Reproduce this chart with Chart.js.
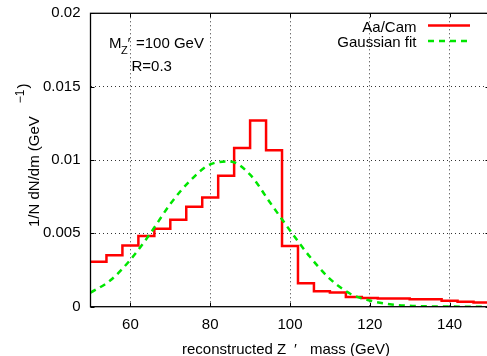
<!DOCTYPE html>
<html>
<head>
<meta charset="utf-8">
<script src="https://cdn.jsdelivr.net/npm/chart.js@4.4.1/dist/chart.umd.min.js"></script>
<style>
html, body { margin: 0; padding: 0; background: #fff; overflow: hidden; }
#wrap { position: relative; width: 492px; height: 356px; }
</style>
</head>
<body>
<div id="wrap"><canvas id="zChart"></canvas></div>
<script>
// histogram: left bin edges (GeV) and normalised contents 1/N dN/dm
const binEdges = [50, 54, 58, 62, 66, 70, 74, 78, 82, 86, 90, 94, 98,
                  102, 106, 110, 114, 118, 122, 126, 130, 134, 138, 142, 146];
const binLast = 150;
const histValues = [0.00307, 0.0035, 0.00418, 0.00482, 0.00532, 0.00593, 0.00682, 0.00745,
                    0.00893, 0.01082, 0.0127, 0.01066, 0.00414, 0.0016, 0.00105, 0.00096,
                    0.00066, 0.0006, 0.00056, 0.00056, 0.0005, 0.0005, 0.0004, 0.00034, 0.00029];

// gaussian fit
const fitMass = [50, 55, 60, 65, 70, 75, 80, 85, 90, 95, 100, 105, 110, 115, 120, 125, 130, 135, 140, 145, 150];
const fitValues = [0.00095, 0.0018, 0.0032, 0.0050, 0.0070, 0.0086, 0.0097, 0.0099, 0.0090, 0.0071,
                   0.0052, 0.0034, 0.0019, 0.0009, 0.00042, 0.00017, 0.00006, 0.00002, 0.00001, 0, 0];

const xTickValues = [60, 80, 100, 120, 140];
const yTickValues = [0, 0.005, 0.01, 0.015, 0.02];
const yTickLabels = ["0", "0.005", "0.01", "0.015", "0.02"];

const seriesNames = ["Aa/Cam", "Gaussian fit"];
const seriesColors = ["#ff0000", "#00e600"];

const FONT = "Liberation Sans, Arial, sans-serif";

let histPoints = binEdges.map((x, i) => ({ x: x, y: histValues[i] }));
histPoints.push({ x: binLast, y: histValues[histValues.length - 1] });
let fitPoints = fitMass.map((x, i) => ({ x: x, y: fitValues[i] }));

// frame, mirrored ticks, legend and labels
const decor = {
    id: "decor",
    afterDraw(chart) {
        const ctx = chart.ctx;
        const a = chart.chartArea;
        const xs = chart.scales.x, ys = chart.scales.y;
        ctx.save();
        ctx.strokeStyle = "#000";
        ctx.lineWidth = 1.3;
        ctx.strokeRect(a.left, a.top, a.right - a.left, a.bottom - a.top);
        ctx.lineWidth = 1;
        ctx.beginPath();
        xTickValues.forEach(v => {
            let px = Math.round(xs.getPixelForValue(v)) + 0.5;
            ctx.moveTo(px, a.bottom); ctx.lineTo(px, a.bottom - 4);
            ctx.moveTo(px, a.top); ctx.lineTo(px, a.top + 4);
        });
        yTickValues.forEach(v => {
            let py = Math.round(ys.getPixelForValue(v)) + 0.5;
            ctx.moveTo(a.left, py); ctx.lineTo(a.left + 4, py);
            ctx.moveTo(a.right, py); ctx.lineTo(a.right - 4, py);
        });
        ctx.stroke();

        ctx.fillStyle = "#000";
        ctx.textBaseline = "alphabetic";

        // legend
        ctx.font = "15px " + FONT;
        ctx.textAlign = "right";
        ctx.fillText(seriesNames[0], 416.5, 31.5);
        ctx.fillText(seriesNames[1], 416.5, 46.5);
        ctx.lineWidth = 2.5;
        ctx.strokeStyle = seriesColors[0];
        ctx.beginPath(); ctx.moveTo(428, 25.5); ctx.lineTo(470, 25.5); ctx.stroke();
        ctx.strokeStyle = seriesColors[1];
        ctx.setLineDash([6, 5]);
        ctx.beginPath(); ctx.moveTo(428, 41); ctx.lineTo(470, 41); ctx.stroke();
        ctx.setLineDash([]);

        // annotation
        ctx.textAlign = "left";
        ctx.font = "15px " + FONT;
        ctx.fillText("M", 109, 48);
        ctx.font = "11px " + FONT;
        ctx.fillText("Z", 121, 54);
        ctx.font = "15px " + FONT;
        ctx.fillText("\u2032", 127.5, 48);
        ctx.fillText("=100 GeV", 136, 48);
        ctx.fillText("R=0.3", 131.5, 70.5);

        // x title
        ctx.fillText("reconstructed Z", 182, 354);
        ctx.fillText("\u2032", 294, 354);
        ctx.fillText("mass (GeV)", 310, 354);

        // y title
        ctx.save();
        ctx.translate(39, 227);
        ctx.rotate(-Math.PI / 2);
        ctx.font = "15px " + FONT;
        ctx.fillText("1/N dN/dm (GeV", 0, 0);
        let w = ctx.measureText("1/N dN/dm (GeV").width;
        ctx.font = "12px " + FONT;
        ctx.fillText("\u22121", w + 13, -15);
        let w2 = ctx.measureText("\u22121").width;
        ctx.font = "15px " + FONT;
        ctx.fillText(")", w + 13 + w2 + 1, -11);
        ctx.restore();

        ctx.restore();
    }
};

new Chart(document.getElementById("zChart"), {
    type: "line",
    data: {
        datasets: [{
            label: seriesNames[0],
            data: histPoints,
            borderColor: seriesColors[0],
            borderWidth: 2.5,
            stepped: true,
            pointRadius: 0,
            fill: false,
            order: 1
        }, {
            label: seriesNames[1],
            data: fitPoints,
            borderColor: seriesColors[1],
            borderWidth: 2.5,
            borderDash: [6, 5],
            cubicInterpolationMode: "monotone",
            pointRadius: 0,
            fill: false,
            order: 0
        }]
    },
    options: {
        responsive: true,
        maintainAspectRatio: false,
        animation: false,
        events: [],
        layout: { padding: { top: 13.3, right: 2.5, left: 0, bottom: 0 } },
        plugins: { legend: { display: false }, tooltip: { enabled: false } },
        scales: {
            x: {
                type: "linear",
                min: 50,
                max: 150,
                afterBuildTicks: s => { s.ticks = xTickValues.map(v => ({ value: v })); },
                afterFit: s => { s.height = 49.3; s.paddingLeft = 0; s.paddingRight = 0; },
                ticks: { color: "#000", padding: 9, maxRotation: 0, font: { family: FONT, size: 15 } },
                grid: { color: "#333", lineWidth: 1, drawTicks: false },
                border: { display: false, dash: [1, 3] }
            },
            y: {
                type: "linear",
                min: 0,
                max: 0.02,
                afterBuildTicks: s => { s.ticks = yTickValues.map(v => ({ value: v })); },
                afterFit: s => { s.width = 90.5; s.paddingTop = 0; s.paddingBottom = 0; },
                ticks: {
                    color: "#000", padding: 10, font: { family: FONT, size: 15 },
                    callback: v => yTickLabels[yTickValues.indexOf(v)]
                },
                grid: {
                    color: c => (c.tick && (c.tick.value === 0 || c.tick.value === 0.02)) ? "rgba(0,0,0,0)" : "#333",
                    lineWidth: 1, drawTicks: false
                },
                border: { display: false, dash: [1, 3] }
            }
        }
    },
    plugins: [decor]
});
</script>
</body>
</html>
